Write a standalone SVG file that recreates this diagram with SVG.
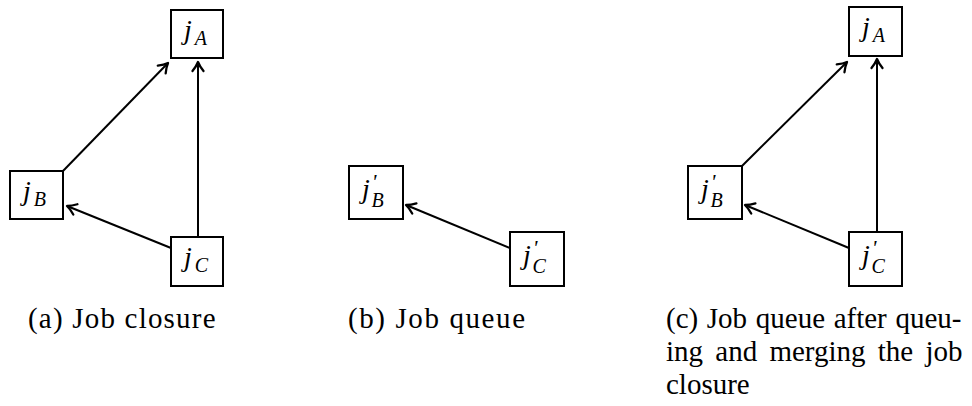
<svg xmlns="http://www.w3.org/2000/svg" width="972" height="406" viewBox="0 0 972 406">
<defs>
<marker id="arr" markerUnits="userSpaceOnUse" markerWidth="16" markerHeight="16" refX="13" refY="8" orient="auto" viewBox="0 0 16 16">
<path d="M4,2.5 Q9,6.5 13,8 Q9,9.5 4,13.5" fill="none" stroke="#000" stroke-width="2.3" stroke-linecap="round" stroke-linejoin="round"/>
</marker>
</defs>
<g id="connectors" fill="none" stroke="#000" stroke-width="2">
<line x1="63" y1="171" x2="168" y2="63" marker-end="url(#arr)"/>
<line x1="198" y1="237" x2="198" y2="62" marker-end="url(#arr)"/>
<line x1="171" y1="248" x2="67" y2="206" marker-end="url(#arr)"/>
<line x1="510" y1="248" x2="406" y2="205" marker-end="url(#arr)"/>
<line x1="742" y1="166" x2="847" y2="62" marker-end="url(#arr)"/>
<line x1="877" y1="232" x2="877" y2="59" marker-end="url(#arr)"/>
<line x1="849" y1="248" x2="745" y2="205" marker-end="url(#arr)"/>
</g>
<g id="a_jA">
<rect x="171" y="10" width="52" height="48" fill="#fff" stroke="#000" stroke-width="2"/>
<text x="184" y="39" font-family="Liberation Serif, serif" font-style="italic" font-size="28">j<tspan font-size="20" dx="3" dy="6">A</tspan></text>
</g>
<g id="a_jB">
<rect x="10" y="171" width="53" height="48" fill="#fff" stroke="#000" stroke-width="2"/>
<text x="23" y="200" font-family="Liberation Serif, serif" font-style="italic" font-size="28">j<tspan font-size="20" dx="3" dy="6">B</tspan></text>
</g>
<g id="a_jC">
<rect x="171" y="237" width="52" height="49" fill="#fff" stroke="#000" stroke-width="2"/>
<text x="184" y="266" font-family="Liberation Serif, serif" font-style="italic" font-size="28">j<tspan font-size="20" dx="3" dy="6">C</tspan></text>
</g>
<g id="b_jB">
<rect x="349" y="166" width="54" height="53" fill="#fff" stroke="#000" stroke-width="2"/>
<text x="362" y="198" font-family="Liberation Serif, serif" font-style="italic" font-size="28">j<tspan font-size="22" dx="2" dy="-9">'</tspan><tspan font-size="20" dx="-5" dy="18">B</tspan></text>
</g>
<g id="b_jC">
<rect x="510" y="232" width="54" height="54" fill="#fff" stroke="#000" stroke-width="2"/>
<text x="523" y="264" font-family="Liberation Serif, serif" font-style="italic" font-size="28">j<tspan font-size="22" dx="2" dy="-9">'</tspan><tspan font-size="20" dx="-5" dy="18">C</tspan></text>
</g>
<g id="c_jA">
<rect x="849" y="7" width="53" height="49" fill="#fff" stroke="#000" stroke-width="2"/>
<text x="862" y="36" font-family="Liberation Serif, serif" font-style="italic" font-size="28">j<tspan font-size="20" dx="3" dy="6">A</tspan></text>
</g>
<g id="c_jB">
<rect x="688" y="166" width="54" height="53" fill="#fff" stroke="#000" stroke-width="2"/>
<text x="701" y="198" font-family="Liberation Serif, serif" font-style="italic" font-size="28">j<tspan font-size="22" dx="2" dy="-9">'</tspan><tspan font-size="20" dx="-5" dy="18">B</tspan></text>
</g>
<g id="c_jC">
<rect x="849" y="232" width="53" height="54" fill="#fff" stroke="#000" stroke-width="2"/>
<text x="862" y="264" font-family="Liberation Serif, serif" font-style="italic" font-size="28">j<tspan font-size="22" dx="2" dy="-9">'</tspan><tspan font-size="20" dx="-5" dy="18">C</tspan></text>
</g>
<g id="captions" font-family="Liberation Serif, serif" font-size="29">
<text x="28" y="328" letter-spacing="1.2">(a) Job closure</text>
<text x="348" y="328" letter-spacing="1.6">(b) Job queue</text>
<text x="666" y="328" word-spacing="1.4">(c) Job queue after queu-</text>
<text x="666" y="361" word-spacing="5">ing and merging the job</text>
<text x="666" y="394">closure</text>
</g>
</svg>
